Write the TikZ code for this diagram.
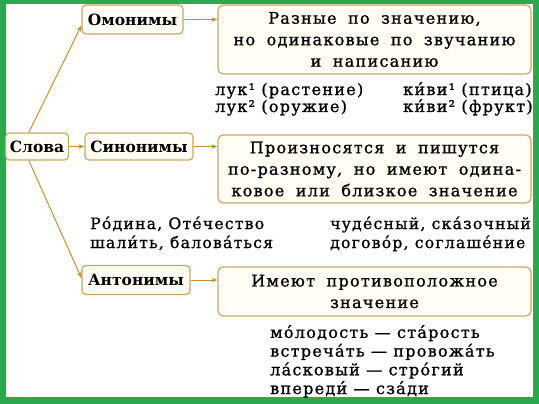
\documentclass[tikz,border=0pt]{standalone}
\usepackage{fontspec}
\setmainfont{DejaVu Serif}
\newfontfamily\bodyfont{DejaVu Serif}[FakeBold=1.1, LetterSpace=8]
\newcommand\widewords{\spaceskip=11.5pt plus 1pt minus 1pt\relax}
\usetikzlibrary{arrows.meta}
\definecolor{framegreen}{RGB}{44,168,78}
\definecolor{linkline}{RGB}{190,145,55}
\definecolor{boxline}{RGB}{200,168,100}
\definecolor{boxfill}{RGB}{255,253,244}
\tikzset{
  term/.style={draw=boxline, fill=boxfill, line width=1.2pt, rounded corners=4pt,
    inner sep=0pt, font=\bfseries\fontsize{15.5}{17}\selectfont},
  meaning/.style={draw=boxline, fill=boxfill, line width=1.2pt, rounded corners=5pt,
    inner sep=0pt, align=center,
    font=\bodyfont\fontsize{16}{21.5}\selectfont\widewords,
    minimum width=313pt},
  sample/.style={anchor=base west, inner sep=0pt, align=left,
    font=\bodyfont\fontsize{16}{17}\selectfont},
  link/.style={draw=linkline, line width=1pt, -{Stealth[length=6pt,width=4.5pt]}}
}
\begin{document}
\begin{tikzpicture}[x=1pt,y=-1pt]
  \useasboundingbox (0,0) rectangle (539,404);
  \fill[framegreen, even odd rule] (0,0) rectangle (539,404) (6,4) rectangle (533,397);
  \draw
    (37,146.5) node[term, minimum width=63pt, minimum height=27pt] (slova){Слова}
    (132.5,19.5) node[term, minimum width=101pt, minimum height=29pt] (omon){Омонимы}
    (139,146.5) node[term, minimum width=108pt, minimum height=27pt] (sinon){Синонимы}
    (136,280) node[term, minimum width=108pt, minimum height=29pt] (anton){Антонимы}
    (374.5,39.5) node[meaning, minimum height=69pt] (omondef){Разные по значению,\\
      но одинаковые по звучанию\\ и написанию}
    (374.5,169) node[meaning, minimum height=68pt] (sinondef){Произносятся и пишутся\\
      по-разному, но имеют одина-\\ ковое или близкое значение}
    (374.5,291.5) node[meaning, minimum height=49pt] (antondef){Имеют противоположное\\
      значение};
  % examples (base = baseline of the last line)
  \draw
    (215,112) node[sample] (omonex1){лук¹ (растение)\\ лук² (оружие)}
    (403,112) node[sample] (omonex2){ки́ви¹ (птица)\\ ки́ви² (фрукт)}
    (90,248) node[sample, font=\bodyfont\fontsize{15.6}{19}\selectfont] (sinonex1){Ро́дина, Оте́чество\\ шали́ть, балова́ться}
    (330,248) node[sample, font=\bodyfont\fontsize{15.6}{19}\selectfont] (sinonex2){чуде́сный, ска́зочный\\ догово́р, соглаше́ние}
    (270,394) node[sample, font=\bodyfont\fontsize{16}{18.7}\selectfont] (antonex){мо́лодость — ста́рость\\
      встреча́ть — провожа́ть\\ ла́сковый — стро́гий\\ впереди́ — сза́ди};
  \begin{scope}[link]
    \draw (slova.120) to ([yshift=-6pt]omon.west);
    \draw (slova.east) to (sinon.west);
    \draw (slova.240) to ([yshift=2pt]anton.west);
    \draw (omon.east) to (omon.east -| omondef.west);
    \draw (sinon.east) to (sinon.east -| sinondef.west);
    \draw (anton.east) to (anton.east -| antondef.west);
  \end{scope}
\end{tikzpicture}
\end{document}
